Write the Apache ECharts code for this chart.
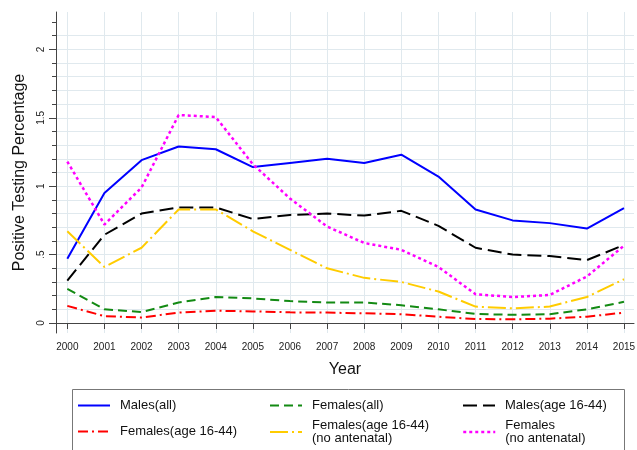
<!DOCTYPE html>
<html>
<head>
<meta charset="utf-8">
<script src="https://cdn.jsdelivr.net/npm/echarts@6/dist/echarts.min.js"></script>
<style>
  html, body { margin: 0; padding: 0; background: #fff; }
  #chart { width: 637px; height: 450px; }
</style>
</head>
<body>
<div id="chart"></div>
<script>
// ---- Data ----
const years = [2000, 2001, 2002, 2003, 2004, 2005, 2006, 2007, 2008, 2009, 2010, 2011, 2012, 2013, 2014, 2015];
const malesAll          = [0.47, 0.95, 1.19, 1.29, 1.27, 1.14, 1.17, 1.20, 1.17, 1.23, 1.07, 0.83, 0.75, 0.73, 0.69, 0.84];
const femalesAll        = [0.25, 0.10, 0.08, 0.15, 0.19, 0.18, 0.16, 0.15, 0.15, 0.13, 0.10, 0.066, 0.06, 0.064, 0.10, 0.155];
const males1644         = [0.31, 0.645, 0.80, 0.845, 0.845, 0.76, 0.79, 0.80, 0.785, 0.82, 0.71, 0.55, 0.50, 0.49, 0.46, 0.57];
const females1644       = [0.125, 0.05, 0.04, 0.076, 0.09, 0.085, 0.078, 0.076, 0.071, 0.064, 0.046, 0.029, 0.027, 0.032, 0.046, 0.076];
const females1644NoAnt  = [0.67, 0.41, 0.55, 0.83, 0.83, 0.67, 0.535, 0.40, 0.33, 0.30, 0.23, 0.12, 0.107, 0.12, 0.19, 0.32];
const femalesNoAnt      = [1.18, 0.72, 0.99, 1.52, 1.505, 1.16, 0.91, 0.705, 0.585, 0.535, 0.41, 0.21, 0.19, 0.205, 0.34, 0.565];

const seriesNames = [
  'Males(all)', 'Females(all)', 'Males(age 16-44)',
  'Females(age 16-44)', 'Females(age 16-44)\n(no antenatal)', 'Females\n(no antenatal)'
];
const yMinorTicks = [0, 0.1, 0.2, 0.3, 0.4, 0.5, 0.6, 0.7, 0.8, 0.9, 1.0, 1.1, 1.2, 1.3, 1.4, 1.5, 1.6, 1.7, 1.8, 1.9, 2.0, 2.1, 2.2];
const yGridValues = [0, 0.1, 0.2, 0.3, 0.4, 0.5, 0.6, 0.7, 0.8, 0.9, 1.0, 1.1, 1.2, 1.3, 1.4, 1.5, 1.6, 1.7, 1.8, 1.9, 2.0, 2.1];
const yMajorTicks = [0, 0.5, 1, 1.5, 2];
const yTickLabels = ['0', '.5', '1', '1.5', '2'];

// ---- Styles ----
const FONT = '"Liberation Sans", Arial, Helvetica, sans-serif';
const styles = [
  { color: '#0000ff', type: 'solid', width: 2 },
  { color: '#138a13', type: [9, 5], width: 2 },
  { color: '#000000', type: [14, 6], width: 2 },
  { color: '#ff0000', type: [10, 4, 2, 4], width: 2 },
  { color: '#ffcc00', type: [18, 4, 2, 4], width: 2 },
  { color: '#ff00ff', type: [3, 3], width: 2.5 }
];
const seriesData = [malesAll, femalesAll, males1644, females1644, females1644NoAnt, femalesNoAnt];

const Y_MIN = -0.073, Y_MAX = 2.273;
const X_MIN = 1999.695, X_MAX = 2015.27;
const gridRect = { left: 56, right: 3, top: 12, bottom: 117, containLabel: false, outerBoundsMode: 'none' };

const series = seriesData.map((vals, i) => ({
  name: seriesNames[i],
  type: 'line',
  xAxisIndex: 0,
  yAxisIndex: 0,
  symbol: 'none',
  data: years.map((y, j) => [y, vals[j]]),
  lineStyle: { color: styles[i].color, type: styles[i].type, width: styles[i].width },
  itemStyle: { color: styles[i].color },
  z: 3 + i
}));

const legendPos = [
  { left: 77, top: 399 }, { left: 269, top: 399 }, { left: 462, top: 399 },
  { left: 77, top: 425 }, { left: 269, top: 419 }, { left: 462, top: 419 }
];
const legends = seriesNames.map((n, i) => ({
  data: [n],
  left: legendPos[i].left,
  top: legendPos[i].top,
  padding: 0,
  itemWidth: 32,
  itemHeight: 14,
  itemGap: 0,
  selectedMode: false,
  itemStyle: { color: 'rgba(0,0,0,0)', borderWidth: 0, opacity: 0 },
  lineStyle: { color: styles[i].color, type: styles[i].type, width: styles[i].width },
  textStyle: { fontSize: 13, color: '#111', lineHeight: 13, fontFamily: FONT, padding: [0, 0, 0, 5] }
}));

const axisColor = '#444';
const option = {
  animation: false,
  backgroundColor: '#ffffff',
  textStyle: { fontFamily: FONT },
  grid: [ Object.assign({}, gridRect), Object.assign({}, gridRect), Object.assign({}, gridRect) ],
  xAxis: [
    {
      gridIndex: 0, type: 'value', min: X_MIN, max: X_MAX,
      axisLine: { show: true, lineStyle: { color: axisColor, width: 1 } },
      axisTick: { show: true, customValues: years, length: 6, lineStyle: { color: axisColor } },
      axisLabel: {
        customValues: years, fontSize: 10, color: '#222', margin: 9, fontFamily: FONT,
        formatter: function (v) { return String(Math.round(v)); }
      },
      splitLine: { show: true, lineStyle: { color: '#e0e9ee', width: 1 } },
      name: 'Year', nameLocation: 'middle', nameGap: 29,
      nameTextStyle: { fontSize: 16, color: '#111', fontFamily: FONT }
    },
    { gridIndex: 1, type: 'value', min: X_MIN, max: X_MAX, show: false },
    { gridIndex: 2, type: 'value', min: X_MIN, max: X_MAX, show: false }
  ],
  yAxis: [
    {
      gridIndex: 0, type: 'value', min: Y_MIN, max: Y_MAX,
      axisLine: { show: true, lineStyle: { color: axisColor, width: 1 } },
      axisTick: { show: false, customValues: yGridValues },
      axisLabel: { show: false },
      splitLine: { show: true, lineStyle: { color: '#e0e9ee', width: 1 } }
    },
    {
      gridIndex: 1, type: 'value', min: Y_MIN, max: Y_MAX,
      axisLine: { show: false },
      axisTick: { show: true, customValues: yMinorTicks, length: 4, lineStyle: { color: axisColor } },
      axisLabel: { show: false },
      splitLine: { show: false }
    },
    {
      gridIndex: 2, type: 'value', min: Y_MIN, max: Y_MAX,
      axisLine: { show: false },
      axisTick: { show: true, customValues: yMajorTicks, length: 7, lineStyle: { color: axisColor } },
      axisLabel: {
        customValues: yMajorTicks, rotate: 90, fontSize: 10, color: '#222', margin: 10, fontFamily: FONT,
        formatter: function (v) {
          for (let k = 0; k < yMajorTicks.length; k++) {
            if (Math.abs(yMajorTicks[k] - v) < 1e-6) return yTickLabels[k];
          }
          return '';
        }
      },
      splitLine: { show: false },
      name: 'Positive Testing Percentage', nameLocation: 'middle', nameRotate: 90, nameGap: 28,
      nameTextStyle: { fontSize: 16, color: '#111', fontFamily: FONT }
    }
  ],
  legend: legends,
  graphic: [{
    type: 'rect', silent: true, z: -1,
    shape: { x: 72.5, y: 389.5, width: 552, height: 80 },
    style: { fill: 'none', stroke: '#777', lineWidth: 1 }
  }],
  series: series
};

const chart = echarts.init(document.getElementById('chart'), null, { renderer: 'canvas' });
chart.setOption(option);
</script>
</body>
</html>
